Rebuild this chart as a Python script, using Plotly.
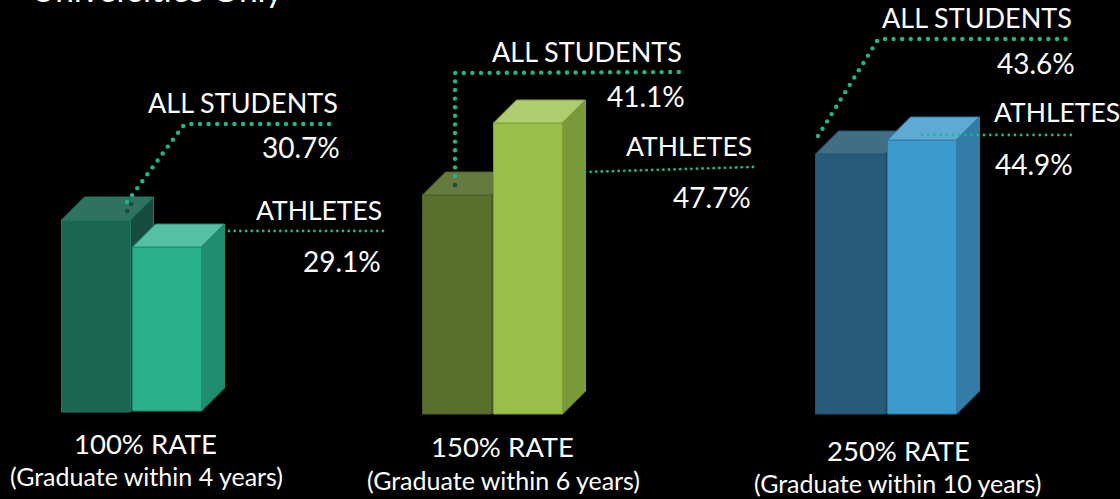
import numpy as np
import plotly.graph_objects as go

# ---------- data ----------
categories = ["100% RATE", "150% RATE", "250% RATE"]
subtitles = ["(Graduate within 4 years)", "(Graduate within 6 years)", "(Graduate within 10 years)"]
all_students_rate = [30.7, 41.1, 43.6]
athletes_rate = [29.1, 47.7, 44.9]
# drawn bar heights as they appear in the picture (not to a common scale with the rates)
all_students_height = [192, 219, 260]
athletes_height = [164, 291, 274]

# ---------- layout / style ----------
W, H = 1120, 499
FONT = "Lato"
DEPTH = 23
all_left = [61.5, 422.5, 815.5]
ath_left = [132.5, 493.5, 887.5]
all_width = [69, 69, 70]
ath_width = [69, 69, 69]
all_base_px = [412, 414, 414]
ath_base_px = [411, 414, 414]

all_front = ["#1a6650", "#5a6f2c", "#265c7a"]
all_top = ["#2f7260", "#66793f", "#3f6e85"]
all_side = ["#154c3d", "#44561f", "#1d4a63"]
all_line = ["#1f7a60", "#4d6026", "#22526e"]
ath_front = ["#2bb08c", "#98bf4a", "#3d9acc"]
ath_top = ["#55c0a4", "#aecd6e", "#5daad5"]
ath_side = ["#208c70", "#7a9a3a", "#337ca6"]
ath_line = ["#1f8a6e", "#7f9f3a", "#2e7aa5"]
DOT = "#22b48c"


def py(px):
    return H - px


fig = go.Figure()


def add_series(lefts, widths, bases_px, heights, front, top, side, line, name, axis):
    xa, ya = ("x", "y") if axis == 1 else (f"x{axis}", f"y{axis}")
    fig.add_trace(go.Bar(
        x=lefts, y=heights, base=[py(b) for b in bases_px], width=widths, offset=0,
        marker=dict(color=front, line=dict(color=line, width=1)),
        name=name, showlegend=False, hoverinfo="skip", xaxis=xa, yaxis=ya,
    ))
    for l, w, b, h, tc, sc, lc in zip(lefts, widths, bases_px, heights, top, side, line):
        r = l + w
        y0 = py(b)
        y1 = y0 + h
        fig.add_trace(go.Scatter(
            x=[l, l + DEPTH, r + DEPTH, r, l], y=[y1, y1 + DEPTH, y1 + DEPTH, y1, y1],
            fill="toself", fillcolor=tc, mode="lines", line=dict(color=lc, width=1),
            showlegend=False, hoverinfo="skip", xaxis=xa, yaxis=ya,
        ))
        fig.add_trace(go.Scatter(
            x=[r, r + DEPTH, r + DEPTH, r, r], y=[y0, y0 + DEPTH, y1 + DEPTH, y1, y0],
            fill="toself", fillcolor=sc, mode="lines", line=dict(color=lc, width=1),
            showlegend=False, hoverinfo="skip", xaxis=xa, yaxis=ya,
        ))


add_series(all_left, all_width, all_base_px, all_students_height,
           all_front, all_top, all_side, all_line, "All students", 1)
add_series(ath_left, ath_width, ath_base_px, athletes_height,
           ath_front, ath_top, ath_side, ath_line, "Athletes", 2)

# ---------- dotted leader lines ----------
leaders = [
    ([(127, 202), (183, 126), (188, 124), (335, 124)], 8.6, 4.4),
    ([(229, 231), (383, 231)], 5.7, 2.8),
    ([(455, 176), (455, 73), (680, 72)], 8.6, 4.4),
    ([(585, 172), (753, 167)], 5.6, 2.8),
    ([(818, 136), (877, 41), (880, 39), (1073, 39)], 8.6, 4.4),
    ([(922, 135), (1073, 135)], 6.2, 2.8),
]
for path, step, size in leaders:
    p = np.array(path, dtype=float)
    seg = np.hypot(*np.diff(p, axis=0).T)
    s = np.concatenate([[0], np.cumsum(seg)])
    t = np.arange(0, s[-1] + 0.1, step)
    fig.add_trace(go.Scatter(
        x=np.interp(t, s, p[:, 0]), y=py(np.interp(t, s, p[:, 1])), mode="markers",
        marker=dict(color=DOT, size=size, line=dict(width=0)),
        showlegend=False, hoverinfo="skip", xaxis="x3", yaxis="y3",
    ))
# faded tail of the leaders where they sink into the bar tops
fig.add_trace(go.Scatter(
    x=[131, 127, 455], y=[py(204), py(211), py(185)], mode="markers",
    marker=dict(color="#1c4a3e", size=4.5, line=dict(width=0)),
    showlegend=False, hoverinfo="skip", xaxis="x3", yaxis="y3",
))

# ---------- text ----------
annots = []


def text(s, x, y_px, anchor, size, xshift=0):
    annots.append(dict(text=s, x=x, y=py(y_px), xref="x", yref="y", xanchor=anchor, yanchor="middle",
                       xshift=xshift, showarrow=False,
                       font=dict(family=FONT, size=size, color="#ffffff"), borderpad=0))


NAME_SIZE = 27
ATH_SIZE = 26.5
VAL_SIZE = 28
CAT_SIZE = 27.5
SUB_SIZE = 25
all_name_pos = [(339, 102), (683, 51), (1073, 17)]
all_val_pos = [(341, 147), (686, 96), (1076, 63)]
ath_name_pos = [(383, 210), (753, 146), (1119, 112)]
ath_name_shift = [0, 0, 2]
ath_val_pos = [(382, 261), (752, 197), (1074, 164)]
cat_pos = [(145, 443), (502, 446), (898, 450)]
sub_pos = [(146, 476), (503, 480), (898, 483)]
for i in range(3):
    text("ALL STUDENTS", *all_name_pos[i], "right", NAME_SIZE)
    text(f"{all_students_rate[i]:.1f}%", *all_val_pos[i], "right", VAL_SIZE)
    text("ATHLETES", *ath_name_pos[i], "right", ATH_SIZE, ath_name_shift[i])
    text(f"{athletes_rate[i]:.1f}%", *ath_val_pos[i], "right", VAL_SIZE)
    text(categories[i], *cat_pos[i], "center", CAT_SIZE)
    text(subtitles[i], *sub_pos[i], "center", SUB_SIZE)
annots.append(dict(text="Universities Only", x=30 / W, y=1 + 11 / H, xref="paper", yref="paper",
                   xanchor="left", yanchor="middle", showarrow=False, borderpad=0,
                   font=dict(family=FONT, size=33.5, color="#ffffff")))

axis = dict(visible=False, fixedrange=True)
fig.update_layout(
    width=W, height=H, margin=dict(l=0, r=0, t=0, b=0, pad=0),
    paper_bgcolor="#000000", plot_bgcolor="#000000", barmode="overlay", showlegend=False,
    xaxis=dict(range=[0, W], **axis), yaxis=dict(range=[0, H], **axis),
    xaxis2=dict(range=[0, W], overlaying="x", **axis), yaxis2=dict(range=[0, H], overlaying="y", **axis),
    xaxis3=dict(range=[0, W], overlaying="x", **axis), yaxis3=dict(range=[0, H], overlaying="y", **axis),
    annotations=annots,
)

fig.write_html("out.html", config=dict(displayModeBar=False),
               post_script="document.body.style.margin='0';document.body.style.background='#000';"
                           "document.body.style.overflow='hidden';")
